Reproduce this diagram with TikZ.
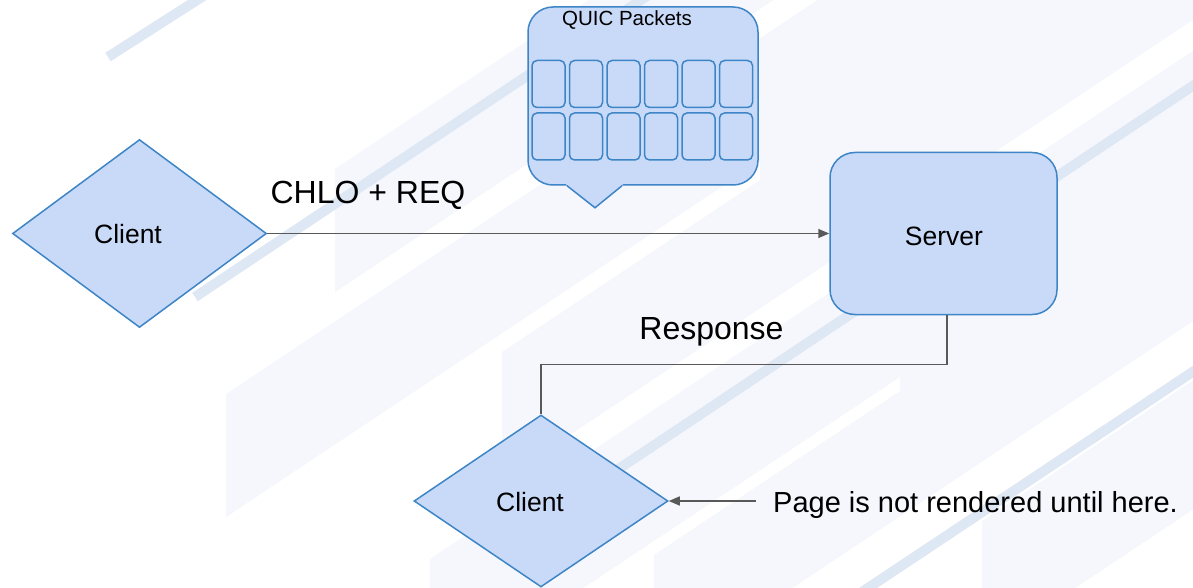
\documentclass[tikz,border=0pt]{standalone}
\usepackage{fontspec}
\setmainfont{Liberation Sans}
\usetikzlibrary{shapes.geometric,arrows.meta,calc}
\definecolor{boxfill}{HTML}{C9DAF8}
\definecolor{boxline}{HTML}{3D85C6}
\definecolor{connclr}{HTML}{595959}
\definecolor{bandclr}{HTML}{F5F7FD}
\definecolor{stripeclr}{HTML}{DEE8F4}
\begin{document}
\begin{tikzpicture}[x=1pt,y=-1pt,
  shapebox/.style={fill=boxfill,draw=boxline,line width=1.5pt},
  clientshape/.style={shapebox,diamond,minimum width=254pt,minimum height=188pt,inner sep=0pt},
  pkt/.style={shapebox,rounded corners=5pt,minimum width=33pt,minimum height=47pt,inner sep=0pt},
  connline/.style={draw=connclr,line width=1.5pt},
  arr/.style={connline,-{Triangle[length=11pt,width=9pt]}},
  lbl/.style={font=\fontsize{32}{36}\selectfont,inner sep=0pt,anchor=base},
  nametxt/.style={font=\fontsize{26.5}{30}\selectfont,inner sep=0pt,anchor=base},
  bandshape/.style={fill=bandclr},
  stripeline/.style={draw=stripeclr,line width=10pt}]
\useasboundingbox (0,0) rectangle (1193,588);
\fill[white] (0,0) rectangle (1193,588);
\begin{scope}
  \clip (0,0) rectangle (1193,588);
  \foreach \x/\t/\b in {335/169/292, 226/394/517, 502/352/480, 430/559/690, 654/555/680, 982/521/650, 760/150/275, 900/330/455}
    \fill[bandshape] (\x,\t) -- ++(1000,-666) -- ++(0,\b-\t) -- (\x,\b) -- cycle;
  \draw[stripeline] (108,57) -- (205,-5);
  \draw[stripeline] (195,297) -- (650,-6);
  \draw[stripeline] (560,508) -- (1200,81);
  \draw[stripeline] (850,600) -- (1200,367);
\end{scope}

% callout with packets
\node[shapebox,rounded corners=25pt,minimum width=230pt,minimum height=178pt,inner sep=0pt] (quic) at (643,96) {};
\fill[boxfill] ($(quic.south)+(-77,-1.5)$) -- ($(quic.south)+(-48,22)$) -- ($(quic.south)+(-20,-1.5)$) -- cycle;
\draw[draw=boxline,line width=1.5pt] ($(quic.south)+(-76,0)$) -- ($(quic.south)+(-48,22)$) -- ($(quic.south)+(-21,0)$);
\node[font=\fontsize{20.5}{24}\selectfont,inner sep=0pt,anchor=base] (qt) at (627,26) {QUIC Packets};
\foreach \i in {0,...,5}
  \foreach \j/\y in {1/84,2/136.5}
    \node[pkt] (p\j\i) at (548.5+37.5*\i,\y) {};

% main nodes
\node[clientshape] (c1) at (139.5,233.5) {};
\node[nametxt] (c1t) at (128,243.3) {Client};
\node[shapebox,rounded corners=25pt,minimum width=227pt,minimum height=162pt,inner sep=0pt] (srv) at (943.5,233.5) {};
\node[nametxt] (srvt) at (944,245.5) {Server};
\node[clientshape,minimum height=172pt] (c2) at (541,501) {};
\node[nametxt] (c2t) at (530,511.7) {Client};

% connectors
\draw[arr] (c1.east) -- (srv.west);
\node[lbl] (chlo) at (368,203.5) {CHLO + REQ};
\draw[connline] ([xshift=3.5pt]srv.south) -- ++(0,49) -| (c2.north);
\node[lbl] (resp) at (711.5,339.5) {Response};
\coordinate (pg) at (756,501);
\draw[arr] (pg) -- (c2.east);
\node[font=\fontsize{29}{33}\selectfont,inner sep=0pt,anchor=base west] (page) at (773,512.5) {Page is not rendered until here.};
\end{tikzpicture}
\end{document}
